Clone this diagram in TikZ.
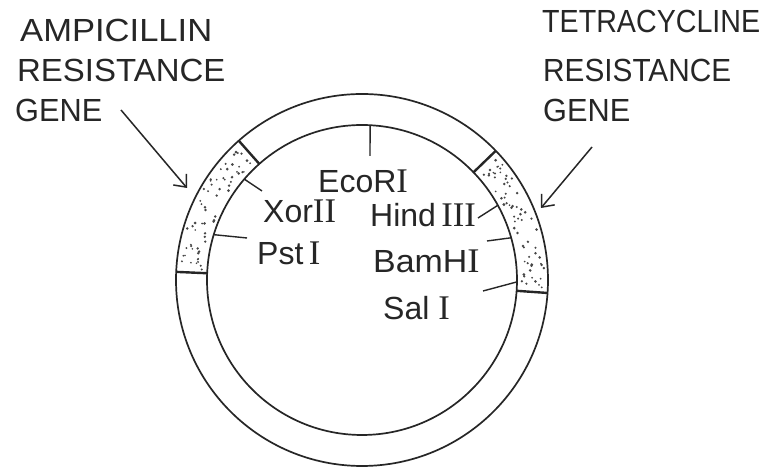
\documentclass[tikz,border=0pt]{standalone}
\usepackage{fontspec}
\setmainfont{Liberation Sans}
\newfontfamily\romfont{Liberation Serif}[Scale=1.08]
\usetikzlibrary{arrows.meta}
\definecolor{ink}{HTML}{262626}
% roman numeral I with bars, as in the enzyme names
\newcommand{\RI}{{\romfont I}}

\begin{document}
\begin{tikzpicture}[x=1pt,y=1pt,
  ring/.style={line width=1.7pt, draw=ink},
  divider/.style={line width=2.4pt, draw=ink},
  site/.style={line width=1.4pt, draw=ink},
  lbl/.style={font=\fontsize{32}{36}\selectfont, text=ink, inner sep=0pt, anchor=base west},
  pointer/.style={line width=1.5pt, draw=ink,
    -{Straight Barb[length=10pt,width=17pt,line width=1.5pt]}},
  speck/.style={fill=ink!85}
]
\useasboundingbox (0,0) rectangle (764,470);
\fill[white] (0,0) rectangle (764,470);

% plasmid ring
\coordinate (C) at (362,190);
\draw[ring] (C) circle (186);
\draw[ring] (C) circle (155);

% stippled gene segments
\pgfmathsetseed{17}
\foreach \i in {1,...,62}{
  \pgfmathsetmacro\a{132.8+43.5*rnd}
  \pgfmathsetmacro\r{159+23.5*rnd}
  \pgfmathsetmacro\s{0.9+0.6*rnd}
  \fill[speck] ([shift={(\a:\r)}]C) circle (\s);
}
\foreach \i in {1,...,66}{
  \pgfmathsetmacro\a{-2.8+45.6*rnd}
  \pgfmathsetmacro\r{159+23.5*rnd}
  \pgfmathsetmacro\s{0.9+0.6*rnd}
  \fill[speck] ([shift={(\a:\r)}]C) circle (\s);
}
\draw[divider] ([shift={(131.5:155)}]C) -- ([shift={(131.5:186)}]C);
\draw[divider] ([shift={(177.5:155)}]C) -- ([shift={(177.5:186)}]C);
\draw[divider] ([shift={(44:155)}]C) -- ([shift={(44:186)}]C);
\draw[divider] ([shift={(-4:155)}]C) -- ([shift={(-4:186)}]C);

% restriction sites
\coordinate (ecoS)  at ([shift={(87:155)}]C);    \coordinate (ecoE)  at (370,314);
\coordinate (xorS)  at ([shift={(139.4:155)}]C); \coordinate (xorE)  at (262,279);
\coordinate (pstS)  at ([shift={(163:155)}]C);   \coordinate (pstE)  at (247,232);
\coordinate (hindS) at ([shift={(28.8:155)}]C);  \coordinate (hindE) at (478,252);
\coordinate (bamS)  at ([shift={(15.8:155)}]C);  \coordinate (bamE)  at (487,229);
\coordinate (salS)  at ([shift={(-0.7:155)}]C);  \coordinate (salE)  at (483,179);
\draw[site] (ecoS) -- (ecoE);
\draw[site] (xorS) -- (xorE);
\draw[site] (pstS) -- (pstE);
\draw[site] (hindS) -- (hindE);
\draw[site] (bamS) -- (bamE);
\draw[site] (salS) -- (salE);

\node[lbl] (eco)  at (318,277) {EcoR\RI};
\node[lbl] (xor)  at (263,247) {Xor\RI\RI};
\node[lbl] (hind) at (370,243) {Hind\,\RI\RI\RI};
\node[lbl] (pst)  at (257,205) {Pst\,\RI};
\node[lbl] (bam)  at (373,197) {\scalebox{1.06}[1]{BamH\RI}};
\node[lbl] (sal)  at (383,150) {Sal\ \RI};

% gene captions
\node[lbl] (ampA) at (20,428) {\scalebox{1.08}[1]{AMPICILLIN}};
\node[lbl] (ampB) at (17,388) {\scalebox{1.03}[1]{RESISTANCE}};
\node[lbl] (ampC) at (15,348) {\scalebox{0.96}[1]{GENE}};
\node[lbl] (tetA) at (542,437) {\scalebox{0.895}[1]{TETRACYCLINE}};
\node[lbl] (tetB) at (543,388) {\scalebox{0.93}[1]{RESISTANCE}};
\node[lbl] (tetC) at (543,348) {\scalebox{0.96}[1]{GENE}};

% pointers to the gene segments
\coordinate (ampTail) at (121,360); \coordinate (ampTip) at (187,282);
\coordinate (tetTail) at (592,323); \coordinate (tetTip) at (541,262);
\draw[pointer] (ampTail) -- (ampTip);
\draw[pointer] (tetTail) -- (tetTip);
\end{tikzpicture}
\end{document}
